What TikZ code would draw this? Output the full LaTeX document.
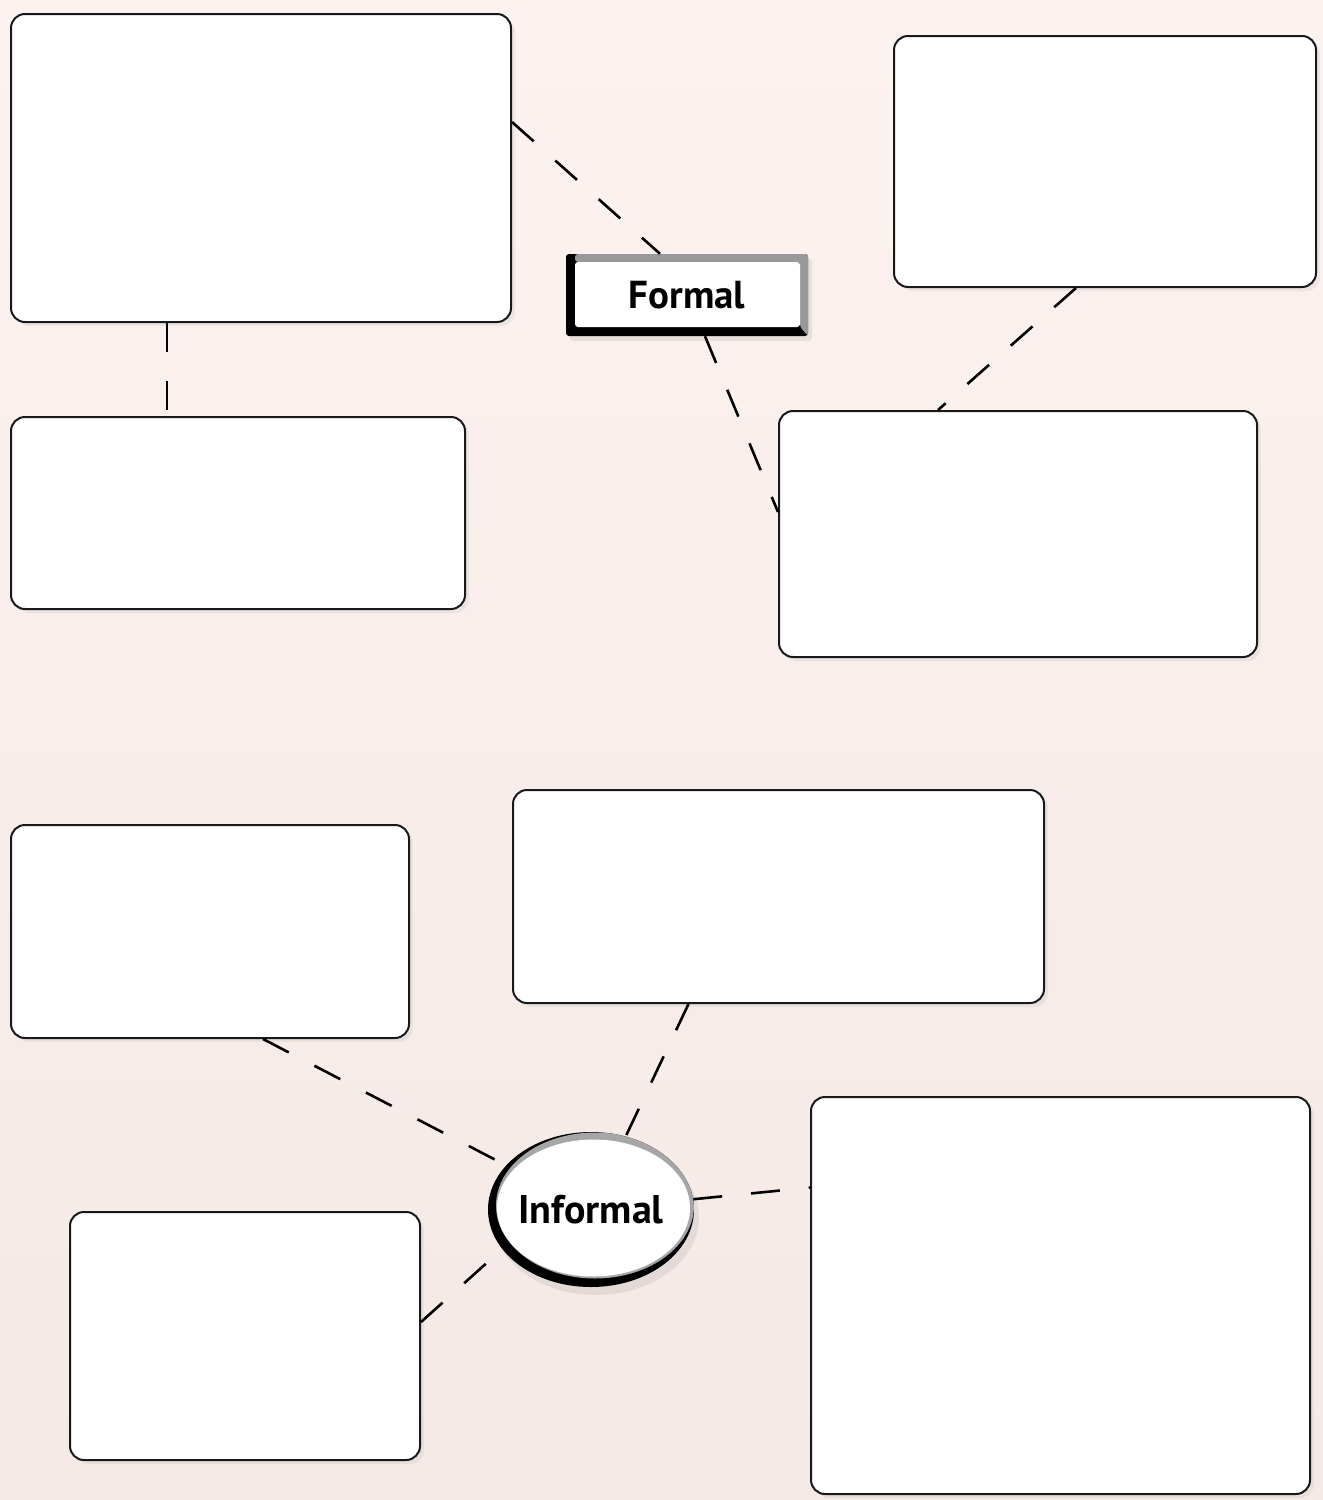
\documentclass[tikz,border=0pt]{standalone}
\usepackage{fontspec}
\setmainfont{PT Sans}
\usepackage{tikz}
\usetikzlibrary{shapes,shadows,positioning}
\definecolor{paper}{HTML}{FCF2EF}
\definecolor{paperdark}{HTML}{F4E9E5}
\tikzstyle{block} = [rectangle, draw=black!90, line width=2pt, fill=white,
    rounded corners=14pt, inner sep=0pt,
    drop shadow={opacity=0.10, shadow xshift=4pt, shadow yshift=-4pt}]
\tikzstyle{formalbox} = [rectangle, fill=black, rounded corners=3pt,
    minimum width=242pt, minimum height=82pt, inner sep=0pt,
    font=\fontsize{39}{39}\selectfont\bfseries,
    drop shadow={opacity=0.15, shadow xshift=4pt, shadow yshift=-5pt},
    path picture={
      \fill[black!40] ([xshift=9pt]path picture bounding box.north west)
        -- (path picture bounding box.north east)
        -- (path picture bounding box.south east)
        -- ([xshift=-8pt,yshift=9pt]path picture bounding box.south east)
        -- ([xshift=-8pt,yshift=-8pt]path picture bounding box.north east)
        -- ([xshift=9pt,yshift=-8pt]path picture bounding box.north west) -- cycle;
      \fill[white] ([xshift=9pt,yshift=9pt]path picture bounding box.south west)
        rectangle ([xshift=-8pt,yshift=-8pt]path picture bounding box.north east);
    }]
\tikzstyle{informalbubble} = [ellipse, fill=black, inner sep=0pt,
    minimum width=206pt, minimum height=155pt,
    font=\fontsize{40}{40}\selectfont\bfseries,
    drop shadow={opacity=0.15, shadow xshift=5pt, shadow yshift=-8pt},
    path picture={
      \fill[black!35] ([xshift=4pt,yshift=4pt]path picture bounding box.center)
        ellipse [x radius=99pt, y radius=73pt];
      \fill[white] ([xshift=2.5pt,yshift=1.5pt]path picture bounding box.center)
        ellipse [x radius=96.5pt, y radius=68.5pt];
    }]
\tikzstyle{dashline} = [draw, line width=2.6pt, dash pattern=on 29pt off 29pt]

\begin{document}
\begin{tikzpicture}[x=1pt, y=-1pt]
    % background
    \shade[top color=paper, bottom color=paperdark] (0,0) rectangle (1323,1500);
    \useasboundingbox (0,0) rectangle (1323,1500);
    % Place nodes
    \node [block, minimum width=500pt, minimum height=308pt] (topLeft) at (261,168) {};
    \node [block, minimum width=422pt, minimum height=251pt] (topRight) at (1105,161.5) {};
    \node [block, minimum width=454pt, minimum height=192pt] (midLeft) at (238,513) {};
    \node [block, minimum width=478pt, minimum height=246pt] (midRight) at (1018,534) {};
    \node [block, minimum width=531pt, minimum height=213pt] (lowerMid) at (778.5,896.5) {};
    \node [block, minimum width=398pt, minimum height=213pt] (lowerLeft) at (210,931.5) {};
    \node [block, minimum width=350pt, minimum height=248pt] (bottomLeft) at (245,1336) {};
    \node [block, minimum width=499pt, minimum height=397pt] (bottomRight) at (1060.5,1295.5) {};
    \node [formalbox] (formal) at (687,295) {Formal};
    \node [informalbubble] (informal) at (591,1209.5) {Informal};
    % Draw links
    \path [dashline] ([yshift=46pt]topLeft.east) -- ([xshift=-27pt]formal.north);
    \path [dashline] ([xshift=-94pt]topLeft.south) -- ([xshift=-71pt]midLeft.north);
    \path [dashline] ([xshift=18pt]formal.south) -- ([yshift=22pt]midRight.west);
    \path [dashline] ([xshift=-29pt]topRight.south) -- ([xshift=-80pt]midRight.north);
    \path [dashline] ([xshift=53pt]lowerLeft.south) -- (informal);
    \path [dashline] ([xshift=-90pt]lowerMid.south) -- (informal);
    \path [dashline] (informal) -- ([yshift=108pt]bottomRight.west);
    \path [dashline] ([yshift=14pt]bottomLeft.east) -- (informal.204);
\end{tikzpicture}
\end{document}
